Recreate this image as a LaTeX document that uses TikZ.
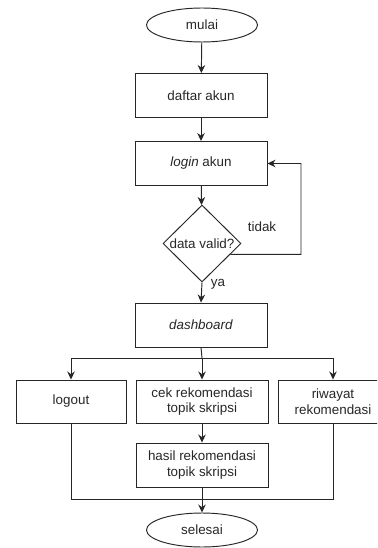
\documentclass[tikz,border=0pt]{standalone}
\usepackage{fontspec}
\setmainfont{Liberation Sans}
\usetikzlibrary{shapes.geometric,arrows.meta,calc}
\begin{document}
\begin{tikzpicture}[x=1pt,y=-1pt,
  every node/.style={font=\fontsize{13.4}{15.5}\selectfont, text=black!85},
  box/.style={draw=black!85, rectangle, line width=0.95pt, minimum width=132pt, minimum height=44pt, inner sep=0pt, align=center},
  term/.style={draw=black!85, ellipse, line width=0.95pt, minimum width=111pt, minimum height=34pt, inner sep=0pt},
  arr/.style={draw=black!85, line width=0.95pt, -{Stealth[length=8pt,width=7.5pt]}},
  ln/.style={draw=black!85, line width=0.95pt}]
\useasboundingbox (0,0) rectangle (377,548);
\begin{scope}
\clip (0,0) rectangle (377,548);
\node[term] (mulai) at (202,25) {mulai};
\node[box] (daftar) at (201,95.5) {daftar akun};
\node[box] (login) at (201,163.5) {\textit{login} akun};
\node[draw=black!85, diamond, line width=0.95pt, minimum width=78pt, minimum height=77pt, inner sep=0pt] (valid) at (202,243.5) {};
\node (validtxt) at (valid) {data valid?};
\node[box] (dash) at (201,325) {\textit{dashboard}};
\node[box, minimum width=110pt, minimum height=43pt] (logout) at (71,401.5) {logout};
\node[box, minimum height=43pt] (cek) at (202,401.5) {cek rekomendasi\\topik skripsi};
\node[box, minimum width=110pt, minimum height=43pt] (riwayat) at (333,401.5) {riwayat\\rekomendasi};
\node[box] (hasil) at (202,465) {hasil rekomendasi\\topik skripsi};
\node[term] (selesai) at (202,530) {selesai};

\node (tidak) at (262,227) {tidak};
\node (ya) at (218,284) {ya};

\draw[arr] (mulai) -- (daftar);
\draw[arr] (daftar) -- (login);
\draw[arr] (login) -- (valid);
\draw[arr] (valid.south) -- (dash.north);
\coordinate (vout) at ($(valid.east)!0.28!(valid.south)$);
\coordinate (loopc) at (301,254.3);
\draw[arr] (vout) -- (loopc) |- (login.east);

\coordinate (br) at (202,358);
\draw[ln] (dash.south) -- (br);
\draw[arr] (br) -| (logout.north);
\draw[arr] (br) -| (riwayat.north);
\draw[arr] (br) -- (cek.north);
\draw[arr] (cek) -- (hasil);

\coordinate (mg) at (202,499);
\draw[ln] (logout.south) |- (mg);
\draw[ln] (riwayat.south) |- (mg);
\draw[arr] (hasil.south) -- (selesai.north);
\end{scope}
\end{tikzpicture}
\end{document}
